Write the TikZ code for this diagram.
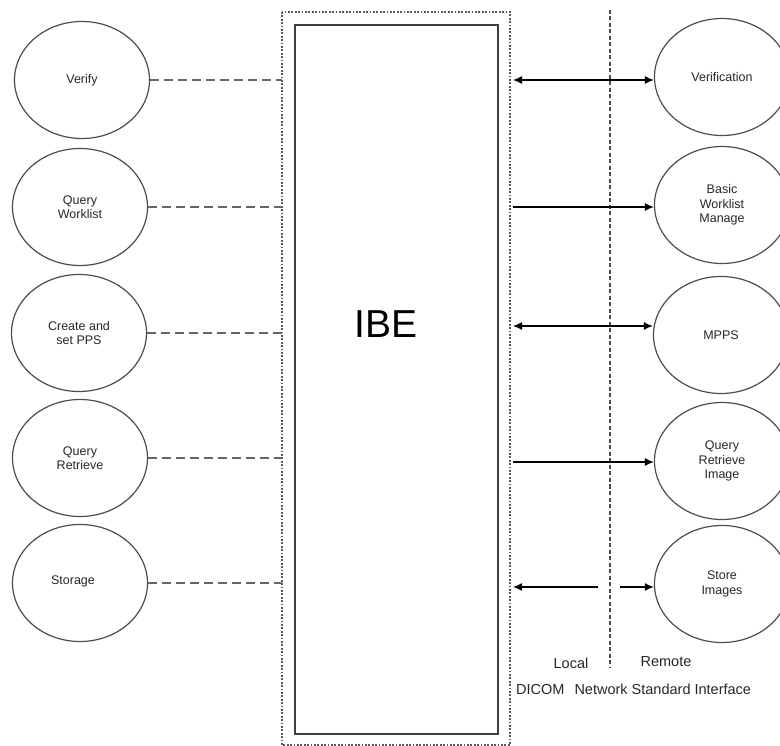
\documentclass[tikz,border=0pt]{standalone}
\usepackage{fontspec}
\setmainfont{Liberation Sans}
\usetikzlibrary{shapes.geometric,arrows.meta}
\begin{document}
\begin{tikzpicture}[x=1pt,y=-1pt,
  svc/.style={draw=black!70,line width=1.2pt,ellipse,minimum width=135pt,minimum height=117pt,inner sep=0pt,align=center,font=\fontsize{12.5}{14.5}\selectfont,text=black!85},
  dashlink/.style={draw=black!60,line width=1.6pt,dash pattern=on 9pt off 5pt},
  arr/.style={draw=black,line width=1.3pt,-{Latex[length=9pt,width=8pt]}},
  darr/.style={draw=black,line width=1.3pt,{Latex[length=9pt,width=8pt]}-{Latex[length=9pt,width=8pt]}},
  lbl/.style={font=\fontsize{14.5}{16}\selectfont,text=black!85,inner sep=0pt}]
\useasboundingbox (0,0) rectangle (780,746);
\clip (0,0) rectangle (780,746);
% outer dotted box and inner IBE box
\draw[black!65,line width=1.8pt,dash pattern=on 1.8pt off 1.6pt] (282,12) rectangle (510,745);
\coordinate (oNW) at (282,12);
\coordinate (oNE) at (510,12);
\draw[black!75,line width=1.7pt] (295,25) rectangle (498,734);
\node[font=\fontsize{39}{40}\selectfont,inner sep=0pt] (ibe) at (386,324) {IBE};
% middle network divider
\coordinate (divT) at (610,10);
\coordinate (divB) at (610,668);
\draw[black!70,line width=1.1pt,dash pattern=on 4pt off 2.5pt] (divT) -- (divB);
% left services
\node[svc] (l1) at (82,80) {Verify};
\node[svc] (l2) at (80,207) {Query\\Worklist};
\node[svc] (l3) at (79,333) {Create and\\set PPS};
\node[svc] (l4) at (80,458) {Query\\Retrieve};
\node[svc] (l5) at (80,583) {\raisebox{5pt}{Storage\hspace{14pt}}};
\foreach \n in {l1,l2,l3,l4,l5}{
  \draw[dashlink] (\n.east) -- (\n.east -| oNW);
}
% right services
\node[svc] (r1) at (722,77) {Verification};
\node[svc] (r2) at (722,205) {Basic\\Worklist\\Manage};
\node[svc] (r3) at (721,335) {MPPS};
\node[svc] (r4) at (722,461) {Query\\Retrieve\\Image};
\node[svc] (r5) at (722,584) {Store\\Images};
\coordinate (a1) at (513,80);
\coordinate (a2) at (513,207);
\coordinate (a3) at (513,326);
\coordinate (a4) at (513,462);
\coordinate (a5) at (513,587);
\coordinate (a5m) at (598,587);
\coordinate (a5n) at (620,587);
\draw[darr] (a1) -- (a1 -| r1.west);
\draw[arr] (a2) -- (a2 -| r2.west);
\draw[darr] (a3) -- (a3 -| r3.west);
\draw[arr] (a4) -- (a4 -| r4.west);
\draw[arr] (a5m) -- (a5);
\draw[arr] (a5n) -- (a5n -| r5.west);
% labels
\node[lbl] (loc) at (571,663) {Local};
\node[lbl] (rem) at (666,662) {Remote};
\node[lbl,anchor=west] (std) at (516,689) {DICOM\hspace{10pt}Network Standard Interface};
\end{tikzpicture}
\end{document}
